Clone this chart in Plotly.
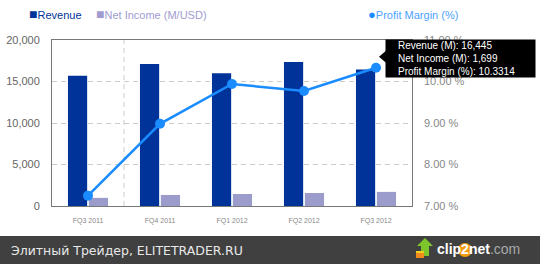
import plotly.graph_objects as go

quarters = ["FQ3 2011", "FQ4 2011", "FQ1 2012", "FQ2 2012", "FQ3 2012"]
revenue = [15700, 17100, 16000, 17350, 16445]
net_income = [980, 1330, 1450, 1570, 1699]
profit_margin = [7.25, 8.98, 9.94, 9.77, 10.3314]

W, H = 540, 264
L, R, T, B = 52, 128, 40, 58
PW, PH = W - L - R, H - T - B

def px(x):
    return (x - L) / PW

def py(y):
    return (H - B - y) / PH

fig = go.Figure()
fig.add_trace(go.Bar(x=quarters, y=revenue, name="Revenue", marker_color="#003399",
                     marker_line_width=0, yaxis="y"))
fig.add_trace(go.Bar(x=quarters, y=net_income, name="Net Income (M/USD)", marker_color="#9c9ccc",
                     marker_line_width=0, yaxis="y"))
fig.add_trace(go.Scatter(x=quarters, y=profit_margin, name="Profit Margin (%)", mode="lines+markers",
                         line=dict(color="#1a8cff", width=2.5), marker=dict(size=10, color="#1a8cff"),
                         yaxis="y2", cliponaxis=False))

shapes = []
# crosshair vertical dashed line
shapes.append(dict(type="line", xref="x", yref="paper", x0=0.5, x1=0.5, y0=0, y1=1,
                   line=dict(color="#cccccc", width=1, dash="5px,4px"), layer="below"))
# bottom banner
shapes.append(dict(type="rect", xref="paper", yref="paper", x0=px(-5), x1=px(W + 5),
                   y0=py(H + 5), y1=py(236), fillcolor="#404040", line_width=0, layer="above"))
# tooltip pointer
shapes.append(dict(type="path", xref="x", yref="y2", xsizemode="pixel", ysizemode="pixel",
                   xanchor=4, yanchor=profit_margin[4],
                   path="M 3 11 L 10 17 L 10 5 Z", fillcolor="black", line_width=0, layer="above"))
# logo arrow
shapes.append(dict(type="path", xref="paper", yref="paper",
                   path=f"M {px(417)} {py(246)} L {px(425)} {py(238)} L {px(433)} {py(246)} "
                        f"L {px(429)} {py(246)} L {px(429)} {py(256)} L {px(421)} {py(256)} "
                        f"L {px(421)} {py(246)} Z",
                   fillcolor="#7cc52a", line_width=0, layer="above"))
shapes.append(dict(type="rect", xref="paper", yref="paper", x0=px(416), x1=px(424),
                   y0=py(258), y1=py(252), fillcolor="#f08a1c", line_width=0, layer="above"))
shapes.append(dict(type="rect", xref="paper", yref="paper", x0=px(416), x1=px(424),
                   y0=py(253), y1=py(251), fillcolor="#f0d020", line_width=0, layer="above"))
# logo circle behind "2"
shapes.append(dict(type="circle", xref="paper", yref="paper", x0=px(458), x1=px(472),
                   y0=py(257), y1=py(243), fillcolor="#f39c12", line_width=0, layer="above"))

annotations = []
font = "Liberation Sans, Arial, sans-serif"
annotations.append(dict(xref="paper", yref="paper", x=px(27), y=py(14), xanchor="left", yanchor="middle",
                        showarrow=False,
                        text="<span style='font-size:14px'>■</span>Revenue",
                        font=dict(family=font, size=11, color="#003399")))
annotations.append(dict(xref="paper", yref="paper", x=px(94), y=py(14), xanchor="left", yanchor="middle",
                        showarrow=False,
                        text="<span style='font-size:14px'>■</span>Net Income (M/USD)",
                        font=dict(family=font, size=11, color="#a09cd0")))
annotations.append(dict(xref="paper", yref="paper", x=px(366), y=py(14), xanchor="left", yanchor="middle",
                        showarrow=False,
                        text="<span style='color:#1a8cff;font-size:13px'>●</span>Profit Margin (%)",
                        font=dict(family=font, size=11, color="#4da3ff")))
# tooltip box
annotations.append(dict(xref="x", yref="y2", x=4, y=profit_margin[4], xanchor="left", yanchor="middle",
                        xshift=9, yshift=9.5, showarrow=False, text=" ",
                        width=145, height=33, borderpad=2, bgcolor="black",
                        font=dict(family=font, size=10, color="white")))
# tooltip text
annotations.append(dict(xref="x", yref="y2", x=4, y=profit_margin[4], xanchor="left", yanchor="middle",
                        xshift=20, yshift=9.5, showarrow=False, align="left",
                        text=f"Revenue (M): {revenue[4]:,}<br>Net Income (M): {net_income[4]:,}"
                             f"<br>Profit Margin (%): {profit_margin[4]}",
                        font=dict(family=font, size=10, color="white")))
# banner texts
annotations.append(dict(xref="paper", yref="paper", x=px(9), y=py(250), xanchor="left", yanchor="middle",
                        showarrow=False, text="Элитный Трейдер, ELITETRADER.RU",
                        font=dict(family="DejaVu Sans, sans-serif", size=12.5, color="#e8e8e8")))
annotations.append(dict(xref="paper", yref="paper", x=px(435), y=py(249), xanchor="left", yanchor="middle",
                        showarrow=False,
                        text="<b>clip2net</b><span style='color:#a8a8a8'>.com</span>",
                        font=dict(family=font, size=14, color="white")))

fig.update_layout(
    width=W, height=H,
    margin=dict(l=L, r=R, t=T, b=B, pad=0, autoexpand=False),
    paper_bgcolor="white", plot_bgcolor="white",
    barmode="group", bargap=0.42, bargroupgap=0.08,
    showlegend=False,
    font=dict(family=font, size=11, color="#666666"),
    shapes=shapes, annotations=annotations,
    xaxis=dict(type="category", showline=True, linecolor="#777777", linewidth=1, mirror=True,
               showgrid=False, ticks="", tickfont=dict(size=7, color="#888888"),
               ticklabelstandoff=8, range=[-0.5, 4.5], automargin=False),
    yaxis=dict(range=[0, 20000], dtick=5000, tickformat=",", showline=True, linecolor="#777777",
               linewidth=1, mirror=True, showgrid=True, gridcolor="#cccccc", griddash="5px,4px",
               zeroline=False, ticks="", ticklabelstandoff=9, automargin=False,
               tickfont=dict(size=11, color="#666666")),
    yaxis2=dict(range=[7, 11], dtick=1, tickformat=".2f", ticksuffix=" %", overlaying="y", side="right",
                showgrid=False, zeroline=False, showline=False, ticks="", ticklabelstandoff=11,
                automargin=False, tickfont=dict(size=11, color="#888888")),
)

fig.write_html("out.html")
